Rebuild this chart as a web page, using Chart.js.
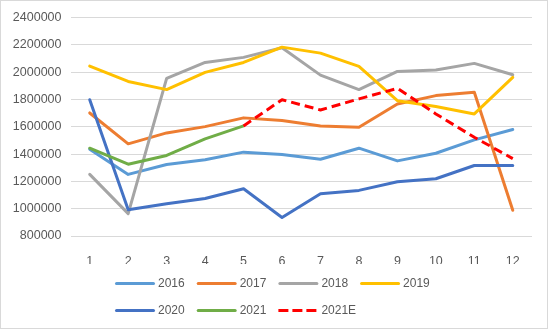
<!DOCTYPE html>
<html>
<head>
<meta charset="utf-8">
<script src="https://cdn.jsdelivr.net/npm/chart.js@4/dist/chart.umd.min.js"></script>
<style>
  html, body { margin: 0; padding: 0; background: #fff; }
  #frame { position: absolute; left: 0; top: 0; width: 546px; height: 327px; border: 1px solid #D9D9D9; }
  canvas { display: block; }
</style>
</head>
<body>
<div id="frame"><canvas id="chart" width="546" height="327"></canvas></div>
<script>
// Monthly values per year
const months = ['1', '2', '3', '4', '5', '6', '7', '8', '9', '10', '11', '12'];

const v2016 = [1436000, 1251000, 1324000, 1358000, 1414000, 1397000, 1362000, 1443000, 1350000, 1406000, 1504000, 1580000];
const v2017 = [1701000, 1475000, 1555000, 1601000, 1665000, 1645000, 1606000, 1596000, 1767000, 1828000, 1852000, 988000];
const v2018 = [1251000, 964000, 1954000, 2071000, 2108000, 2178000, 1978000, 1872000, 2005000, 2016000, 2064000, 1981000];
const v2019 = [2044000, 1932000, 1872000, 1998000, 2071000, 2183000, 2139000, 2042000, 1791000, 1748000, 1694000, 1962000];
const v2020 = [1798000, 993000, 1036000, 1075000, 1146000, 936000, 1110000, 1134000, 1197000, 1219000, 1316000, 1316000];
const v2021 = [1443000, 1326000, 1390000, 1511000, 1606000, null, null, null, null, null, null, null];
const v2021E = [null, null, null, null, 1606000, 1798000, 1723000, 1804000, 1881000, 1694000, 1523000, 1367000];

const seriesNames = ['2016', '2017', '2018', '2019', '2020', '2021', '2021E'];
const seriesValues = [v2016, v2017, v2018, v2019, v2020, v2021, v2021E];
const seriesColors = ['#5B9BD5', '#ED7D31', '#A5A5A5', '#FFC000', '#4472C4', '#70AD47', '#FF0000'];
const seriesDash = [null, null, null, null, null, null, [9, 5]];

const yMin = 800000;
const yMax = 2400000;
const yStep = 200000;

const TEXT = '#595959';
const FONT = 'Liberation Sans, Arial, sans-serif';
const LEGEND_FONT = 12;
const LEGEND_BOX_H = 15;
const LEGEND_PAD = 12;
const LEGEND_LINE = 40;
const LEGEND_PER_ROW = 4;

const datasets = seriesNames.map((name, i) => ({
  label: name,
  data: seriesValues[i],
  borderColor: seriesColors[i],
  backgroundColor: seriesColors[i],
  borderWidth: 3,
  borderDash: seriesDash[i] || [],
  borderCapStyle: seriesDash[i] ? 'butt' : 'round',
  borderJoinStyle: 'round',
  pointRadius: 0,
  pointHoverRadius: 0,
  tension: 0,
  fill: false,
  spanGaps: false,
  order: seriesNames.length - i   // later series paint on top
}));

// Legend in a fixed grid of four columns, with line samples
const legendGrid = {
  id: 'legendGrid',
  afterLayout(chart) {
    const lg = chart.legend;
    if (!lg || !lg.legendHitBoxes) return;
    const lineH = Math.max(LEGEND_FONT, LEGEND_BOX_H) + LEGEND_PAD;
    lg.left = 102;
    lg.right = 450;
    lg.legendHitBoxes.forEach((hb, i) => {
      hb.row = Math.floor(i / LEGEND_PER_ROW);
      hb.top = hb.row * lineH;
    });
  },
  afterDraw(chart) {
    const lg = chart.legend;
    if (!lg) return;
    const ctx = chart.ctx;
    lg.legendItems.forEach((item, i) => {
      const hb = lg.legendHitBoxes[i];
      const ds = chart.data.datasets[item.datasetIndex];
      const y = hb.top + LEGEND_BOX_H / 2;
      const dashed = ds.borderDash && ds.borderDash.length;
      ctx.save();
      ctx.strokeStyle = ds.borderColor;
      ctx.lineWidth = ds.borderWidth;
      ctx.lineCap = dashed ? 'butt' : 'round';
      ctx.setLineDash(dashed ? [10, 4] : []);
      ctx.beginPath();
      ctx.moveTo(hb.left + (dashed ? 0 : 1.5), y);
      ctx.lineTo(hb.left + LEGEND_LINE - (dashed ? 0 : 1.5), y);
      ctx.stroke();
      ctx.restore();
    });
  }
};

new Chart(document.getElementById('chart'), {
  type: 'line',
  data: { labels: months, datasets },
  plugins: [legendGrid],
  options: {
    responsive: false,
    animation: false,
    layout: { padding: { top: 16, right: 15, bottom: 0, left: 0 } },
    plugins: {
      tooltip: { enabled: false },
      legend: {
        position: 'bottom',
        align: 'start',
        labels: {
          color: TEXT,
          font: { family: FONT, size: LEGEND_FONT },
          boxWidth: 37,
          boxHeight: LEGEND_BOX_H,
          padding: LEGEND_PAD,
          sort: (a, b) => a.datasetIndex - b.datasetIndex,
          generateLabels(chart) {
            const items = Chart.defaults.plugins.legend.labels.generateLabels(chart);
            items.forEach(it => {
              it.fillStyle = 'rgba(0,0,0,0)';
              it.strokeStyle = 'rgba(0,0,0,0)';
              it.lineWidth = 0;
            });
            return items;
          }
        }
      }
    },
    scales: {
      x: {
        offset: true,
        grid: { display: false },
        border: { display: false },
        ticks: {
          color: TEXT,
          font: { family: FONT, size: 12.5 },
          padding: 10,
          autoSkip: false,
          maxRotation: 0
        },
        afterFit(scale) { scale.height = 28; }
      },
      y: {
        min: yMin,
        max: yMax,
        grid: { color: '#D9D9D9', lineWidth: 1, drawTicks: false },
        border: { display: false },
        ticks: {
          stepSize: yStep,
          color: TEXT,
          font: { family: FONT, size: 12.5 },
          padding: 9,
          callback: v => String(v)
        },
        afterFit(scale) { scale.width = 69.5; }
      }
    }
  }
});
</script>
</body>
</html>
